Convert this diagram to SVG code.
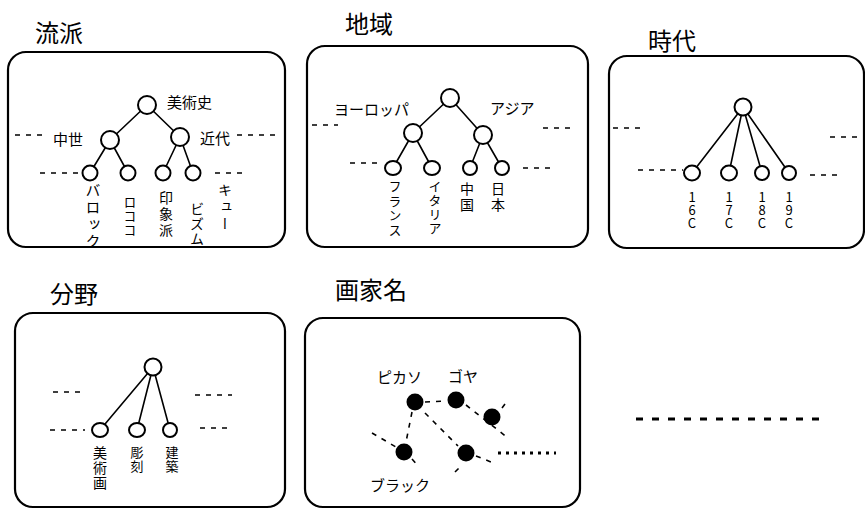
<svg xmlns="http://www.w3.org/2000/svg" width="865" height="509" viewBox="0 0 865 509">
<style>
.box{fill:none;stroke:#000;stroke-width:2.2}
.t{font-family:"Noto Sans CJK JP","Noto Sans",sans-serif;fill:#000}
.title{font-size:24px}
.lbl{font-size:15px}
.v{writing-mode:vertical-rl;text-orientation:upright}
.ln{stroke:#000;stroke-width:1.6;fill:none}
.dash{stroke:#000;stroke-width:1.6;stroke-dasharray:5 6;fill:none}
.nd{fill:#fff;stroke:#000;stroke-width:2}
.fn{fill:#000}
</style>
<rect width="865" height="509" fill="#fff"/>

<g id="panel-ryuha">
<text class="t title" x="35" y="42">流派</text>
<rect class="box" x="8" y="52" width="277" height="195" rx="18"/>
<text class="t lbl" x="167" y="108">美術史</text>
<text class="t lbl" x="53" y="145">中世</text>
<text class="t lbl" x="200" y="144">近代</text>
<line class="dash" x1="15" y1="135" x2="44" y2="135"/>
<line class="dash" x1="237" y1="135" x2="275" y2="135"/>
<line class="dash" x1="40" y1="173" x2="82" y2="173"/>
<line class="dash" x1="215" y1="173" x2="248" y2="173"/>
<path class="ln" d="M147 105L110 140M147 105L180 137M110 140L90 173M110 140L128 173M180 137L163 173M180 137L193 173"/>
<circle class="nd" cx="147" cy="105" r="9"/>
<circle class="nd" cx="110" cy="140" r="9"/>
<circle class="nd" cx="180" cy="137" r="9"/>
<circle class="nd" cx="90" cy="173" r="7.5"/>
<circle class="nd" cx="128" cy="173" r="7.5"/>
<circle class="nd" cx="163" cy="173" r="7.5"/>
<circle class="nd" cx="193" cy="173" r="7.5"/>
<text class="t v" x="93" y="183" font-size="15" letter-spacing="2">バロック</text>
<text class="t v" x="130" y="196" font-size="13" letter-spacing="1">ロココ</text>
<text class="t v" x="166" y="191" font-size="14" letter-spacing="2">印象派</text>
<text class="t v" x="197" y="202" font-size="14" letter-spacing="1">ビズム</text>
<text class="t v" x="225" y="183" font-size="14" letter-spacing="3">キュー</text>
</g>

<g id="panel-chiiki">
<text class="t title" x="345" y="33">地域</text>
<rect class="box" x="307" y="46" width="281" height="201" rx="18"/>
<text class="t lbl" x="334" y="115">ヨーロッパ</text>
<text class="t lbl" x="490" y="114">アジア</text>
<line class="dash" x1="312" y1="125" x2="338" y2="125"/>
<line class="dash" x1="543" y1="128" x2="572" y2="128"/>
<line class="dash" x1="350" y1="163" x2="382" y2="163"/>
<line class="dash" x1="523" y1="168" x2="553" y2="168"/>
<path class="ln" d="M450 98L413 133M450 98L483 135M413 133L393 168M413 133L432 168M483 135L470 168M483 135L502 168"/>
<circle class="nd" cx="450" cy="98" r="9"/>
<circle class="nd" cx="413" cy="133" r="9"/>
<circle class="nd" cx="483" cy="135" r="9"/>
<ellipse class="nd" cx="393" cy="168" rx="8" ry="7"/>
<ellipse class="nd" cx="432" cy="168" rx="8" ry="7"/>
<circle class="nd" cx="470" cy="168" r="7"/>
<circle class="nd" cx="502" cy="168" r="7"/>
<text class="t v" x="395" y="180" font-size="13" letter-spacing="1.5">フランス</text>
<text class="t v" x="435" y="180" font-size="13" letter-spacing="1">イタリア</text>
<text class="t v" x="467" y="182" font-size="14" letter-spacing="2">中国</text>
<text class="t v" x="498" y="182" font-size="14" letter-spacing="2">日本</text>
</g>

<g id="panel-jidai">
<text class="t title" x="648" y="50">時代</text>
<rect class="box" x="609" y="56" width="255" height="192" rx="18"/>
<line class="dash" x1="613" y1="128" x2="642" y2="128"/>
<line class="dash" x1="830" y1="137" x2="860" y2="137"/>
<line class="dash" x1="638" y1="170" x2="683" y2="170"/>
<line class="dash" x1="810" y1="175" x2="842" y2="175"/>
<path class="ln" d="M743 107L692 173M743 107L729 173M743 107L762 173M743 107L789 173"/>
<circle class="nd" cx="743" cy="107" r="8.5"/>
<ellipse class="nd" cx="692" cy="173" rx="8" ry="7.5"/>
<ellipse class="nd" cx="729" cy="173" rx="8" ry="7.5"/>
<circle class="nd" cx="762" cy="173" r="7"/>
<circle class="nd" cx="789" cy="173" r="7"/>
<text class="t v" x="692" y="191" font-size="13" letter-spacing="0">16C</text>
<text class="t v" x="729" y="191" font-size="13" letter-spacing="0">17C</text>
<text class="t v" x="762" y="191" font-size="13" letter-spacing="0">18C</text>
<text class="t v" x="789" y="191" font-size="13" letter-spacing="0">19C</text>
</g>

<g id="panel-bunya">
<text class="t title" x="50" y="303">分野</text>
<rect class="box" x="15" y="313" width="270" height="194" rx="18"/>
<line class="dash" x1="53" y1="392" x2="80" y2="392"/>
<line class="dash" x1="195" y1="395" x2="232" y2="395"/>
<line class="dash" x1="50" y1="430" x2="85" y2="430"/>
<line class="dash" x1="200" y1="428" x2="232" y2="428"/>
<path class="ln" d="M153 367L100 430M153 367L137 430M153 367L170 430"/>
<circle class="nd" cx="153" cy="367" r="8.5"/>
<ellipse class="nd" cx="100" cy="430" rx="8" ry="7"/>
<ellipse class="nd" cx="137" cy="430" rx="8" ry="7"/>
<circle class="nd" cx="170" cy="430" r="7"/>
<text class="t v" x="100" y="446" font-size="14" letter-spacing="1">美術画</text>
<text class="t v" x="137" y="446" font-size="13" letter-spacing="1">彫刻</text>
<text class="t v" x="172" y="446" font-size="13" letter-spacing="1">建築</text>
</g>

<g id="panel-gaka">
<text class="t title" x="335" y="299">画家名</text>
<rect class="box" x="305" y="318" width="275" height="189" rx="18"/>
<text class="t lbl" x="377" y="383">ピカソ</text>
<text class="t lbl" x="448" y="382">ゴヤ</text>
<text class="t lbl" x="370" y="491">ブラック</text>
<path class="dash" d="M425 402L446 401M466 405L508 438M502 408L508 400M412 412L406 442M425 413L458 446M372 433L396 447M412 459L419 467M476 456L496 464M455 472L461 466"/>
<line x1="498" y1="453" x2="556" y2="453" stroke="#000" stroke-width="3" stroke-dasharray="3 5"/>
<circle class="fn" cx="415" cy="402" r="8.5"/>
<circle class="fn" cx="456" cy="400" r="8.5"/>
<circle class="fn" cx="492" cy="417" r="8.5"/>
<circle class="fn" cx="404" cy="452" r="8.5"/>
<circle class="fn" cx="466" cy="453" r="8.5"/>
</g>

<g id="connectors">
<line x1="636" y1="419" x2="826" y2="419" stroke="#000" stroke-width="3" stroke-dasharray="7 9"/>
</g>
</svg>
